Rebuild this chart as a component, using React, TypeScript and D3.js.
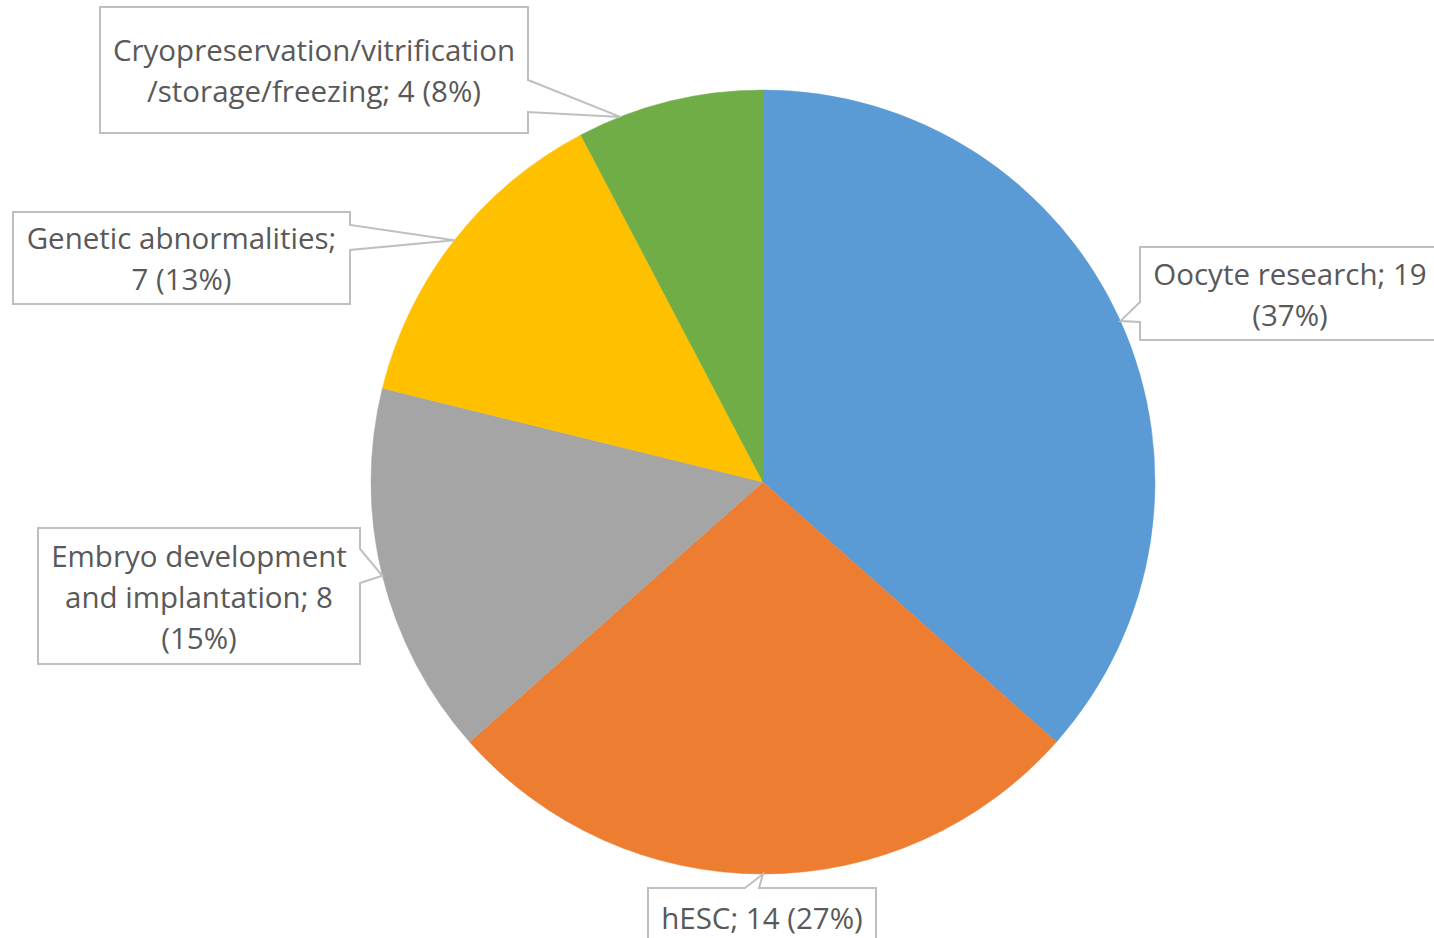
import React from "react";
import * as d3 from "d3";

const categories = [
  "Oocyte research",
  "hESC",
  "Embryo development and implantation",
  "Genetic abnormalities",
  "Cryopreservation/vitrification/storage/freezing",
];
const counts = [19, 14, 8, 7, 4];
const colors = ["#5B9BD5", "#ED7D31", "#A5A5A5", "#FFC000", "#70AD47"];
const labelLines = [
  ["Oocyte research; 19", "(37%)"],
  ["hESC; 14 (27%)"],
  ["Embryo development", "and implantation; 8", "(15%)"],
  ["Genetic abnormalities;", "7 (13%)"],
  ["Cryopreservation/vitrification", "/storage/freezing; 4 (8%)"],
];

// callout layout: box, side with wedge base, base range, tip angle shift (deg)
const callouts = [
  { x: 1140, y: 247, w: 310, h: 93, side: "left", b1: 302, b2: 322, shift: 0 },
  { x: 648, y: 888, w: 228, h: 58, side: "top", b1: 745, b2: 759, shift: 0 },
  { x: 38, y: 528, w: 322, h: 136, side: "right", b1: 549, b2: 583, shift: 0 },
  { x: 13, y: 212, w: 337, h: 92, side: "right", b1: 225, b2: 250, shift: 0 },
  { x: 100, y: 7, w: 428, h: 126, side: "right", b1: 80, b2: 112, shift: -7.5 },
];

const W = 1434;
const H = 938;
const cx = 763;
const cy = 482;
const R = 392;

function calloutPath(c: any, tx: number, ty: number) {
  const { x, y, w, h, side, b1, b2 } = c;
  const r = x + w;
  const b = y + h;
  if (side === "right")
    return `M${x},${y}L${r},${y}L${r},${b1}L${tx},${ty}L${r},${b2}L${r},${b}L${x},${b}Z`;
  if (side === "left")
    return `M${x},${y}L${r},${y}L${r},${b}L${x},${b}L${x},${b2}L${tx},${ty}L${x},${b1}Z`;
  return `M${x},${y}L${b1},${y}L${tx},${ty}L${b2},${y}L${r},${y}L${r},${b}L${x},${b}Z`;
}

export default function App() {
  const pie = d3
    .pie<number>()
    .sort(null)
    .value((d) => d);
  const arcs = pie(counts);
  const arc = d3.arc<d3.PieArcDatum<number>>().innerRadius(0).outerRadius(R);
  const lineH = 41;

  return (
    <svg
      width={W}
      height={H}
      style={{ position: "absolute", left: 0, top: 0, background: "#fff" }}
      fontFamily="'Open Sans', sans-serif"
    >
      <rect width={W} height={H} fill="#fff" />
      <g transform={`translate(${cx},${cy})`}>
        {arcs.map((a, i) => (
          <path key={categories[i]} d={arc(a) || ""} fill={colors[i]} stroke={colors[i]} strokeWidth={0.5} />
        ))}
      </g>
      {arcs.map((a, i) => {
        const c = callouts[i];
        const ang = (a.startAngle + a.endAngle) / 2 + (c.shift * Math.PI) / 180;
        const tx = cx + R * Math.sin(ang);
        const ty = cy - R * Math.cos(ang);
        const lines = labelLines[i];
        const midY = c.y + c.h / 2;
        const midX = c.side === "left" ? 1290 : c.x + c.w / 2;
        return (
          <g key={"lbl" + i}>
            <path d={calloutPath(c, tx, ty)} fill="#fff" stroke="#BFBFBF" strokeWidth={2} />
            {lines.map((t, j) => (
              <text
                key={j}
                x={midX}
                y={midY + (j - (lines.length - 1) / 2) * lineH}
                textAnchor="middle"
                dominantBaseline="central"
                fontSize={29.5}
                fill="#595959"
                style={{ fontVariantLigatures: "none" }}
              >
                {t}
              </text>
            ))}
          </g>
        );
      })}
    </svg>
  );
}
